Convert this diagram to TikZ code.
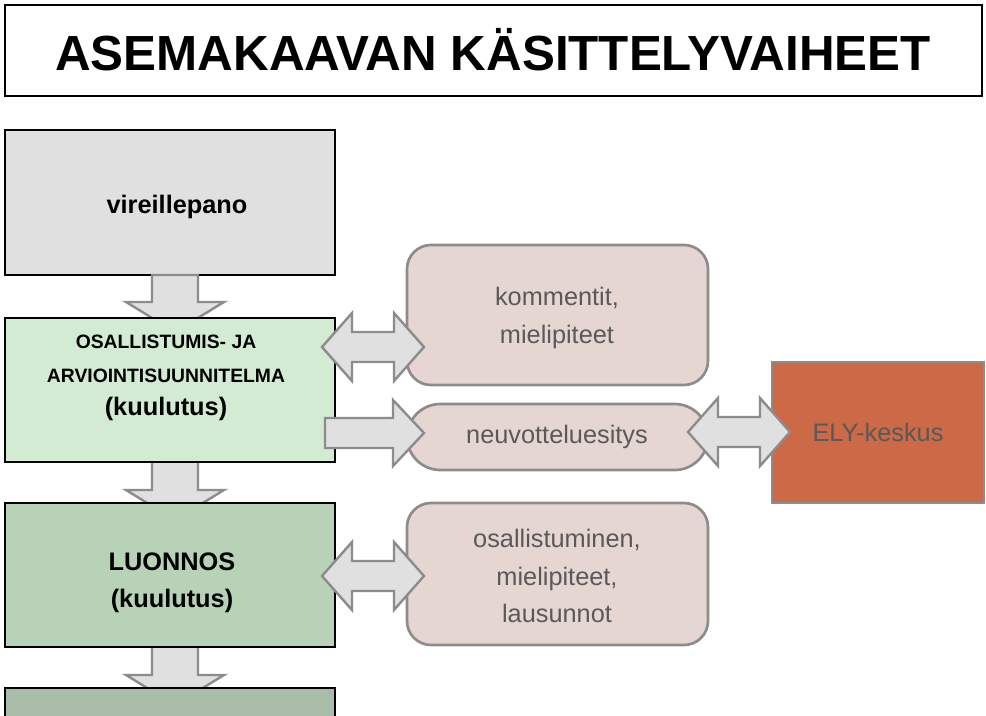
\documentclass[tikz,border=0pt]{standalone}
\usepackage{fontspec}
\setmainfont{Liberation Sans}
\begin{document}
\begin{tikzpicture}[x=0.75pt,y=-0.75pt,
  blk/.style={draw=black,line width=2pt},
  pinkbox/.style={draw=gray!90,line width=2pt,fill=pinkc,rounded corners=18pt},
  barrow/.style={draw=gray!90,line width=1.8pt,fill=arrc,line join=miter},
  lbl/.style={font=\bfseries,align=center,text=black}]
\definecolor{arrc}{HTML}{E0E0E0}
\definecolor{pinkc}{HTML}{E6D6D2}
\definecolor{g1}{HTML}{E0E0E0}
\definecolor{g2}{HTML}{D3EBD3}
\definecolor{g3}{HTML}{B7D2B7}
\definecolor{g4}{HTML}{A9BCA9}
\definecolor{ely}{HTML}{CC6947}
\useasboundingbox (0,0) rectangle (986,715);
\fill[white] (0,0) rectangle (986,715);
% title
\draw[blk] (5,5) rectangle (982,96);
\node[font=\bfseries\fontsize{37}{40}\selectfont] (title) at (493,50) {ASEMAKAAVAN KÄSITTELYVAIHEET};
% left boxes
\draw[blk,fill=g1] (5,130) rectangle (335,275);
\node[lbl,font=\bfseries\fontsize{19}{23}\selectfont] (vir) at (177,207) {vireillepano};
\draw[blk,fill=g4] (5,688) rectangle (335,720);
% down arrows
\foreach \a/\b in {275/332, 460/520, 645/705}{
  \draw[barrow] (152,\a) -- (198,\a) -- (198,\b-30) -- (224,\b-30) -- (175,\b) -- (126,\b-30) -- (152,\b-30) -- cycle;}
\draw[blk,fill=g2] (5,318) rectangle (335,462);
\node[lbl,font=\bfseries\fontsize{14.5}{25}\selectfont] (osa) at (166,378) {OSALLISTUMIS- JA\\ARVIOINTISUUNNITELMA\\{\fontsize{19}{23}\selectfont (kuulutus)}};
\draw[blk,fill=g3] (5,503) rectangle (335,647);
\node[lbl,font=\bfseries\fontsize{19}{28}\selectfont] (luo) at (172,583) {LUONNOS\\(kuulutus)};
\draw[blk,fill=g4] (5,688) rectangle (335,720);
% right boxes
\draw[pinkbox] (407,245) rectangle (708,385);
\node[align=center,text=black!65,font=\fontsize{19}{28}\selectfont] (kom) at (557,318) {kommentit,\\mielipiteet};
\draw[pinkbox,rounded corners=25pt] (407,404) rectangle (708,470);
\node[text=black!65,font=\fontsize{19}{23}\selectfont] (neu) at (557,437) {neuvotteluesitys};
\draw[pinkbox] (407,503) rectangle (708,645);
\node[align=center,text=black!65,font=\fontsize{19}{28}\selectfont] (osal) at (557,576) {osallistuminen,\\mielipiteet,\\lausunnot};
\draw[draw=gray!90,line width=2pt,fill=ely] (772,362) rectangle (984,503);
\node[text=black!65,font=\fontsize{19}{23}\selectfont] (ely) at (878,432) {ELY-keskus};
% double arrows
\foreach \l/\r/\c in {322/424/347, 322/424/576, 688/790/432}{
  \draw[barrow] (\l,\c) -- (\l+30,\c-34) -- (\l+30,\c-15) -- (\r-30,\c-15) -- (\r-30,\c-34) -- (\r,\c) -- (\r-30,\c+34) -- (\r-30,\c+15) -- (\l+30,\c+15) -- (\l+30,\c+34) -- cycle;}
% single right arrow
\draw[barrow] (325,418) -- (393,418) -- (393,400) -- (424,433) -- (393,466) -- (393,448) -- (325,448) -- cycle;
\end{tikzpicture}
\end{document}
